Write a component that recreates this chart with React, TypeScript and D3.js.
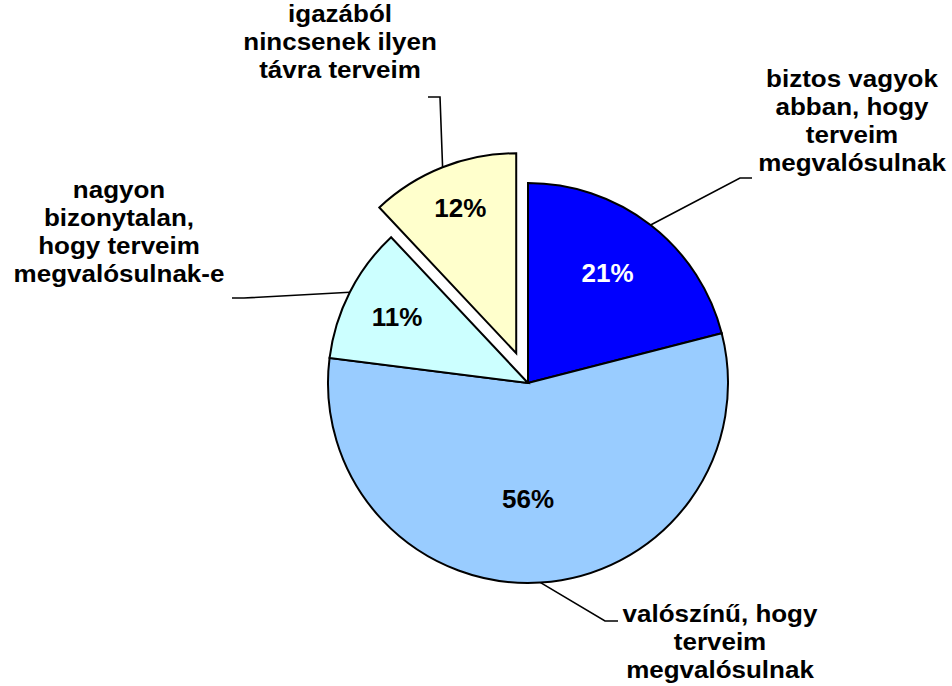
import React from "react";
import * as d3 from "d3";

// ---- data ----
const categories = [
  "biztos vagyok abban, hogy terveim megvalósulnak",
  "valószínű, hogy terveim megvalósulnak",
  "nagyon bizonytalan, hogy terveim megvalósulnak-e",
  "igazából nincsenek ilyen távra terveim",
];
const categoryLines = [
  ["biztos vagyok", "abban, hogy", "terveim", "megvalósulnak"],
  ["valószínű, hogy", "terveim", "megvalósulnak"],
  ["nagyon", "bizonytalan,", "hogy terveim", "megvalósulnak-e"],
  ["igazából", "nincsenek ilyen", "távra terveim"],
];
const values = [21, 56, 11, 12];
const colors = ["#0000FF", "#99CCFF", "#CCFFFF", "#FFFFCC"];
const pctColors = ["#FFFFFF", "#000000", "#000000", "#000000"];

// ---- layout ----
const W = 952;
const H = 686;
const CX = 528;
const CY = 383;
const R = 200;
const explode = [0, 0, 0, 32];
const pctRadius = [0.68, 0.58, 0.735, 0.78];
const pctShift = [-0.035, 0.063, 0, 0.01];
const labelLayout = [
  { cx: 852, y0: 87, elbow: [740, 178], end: [752, 178] },
  { cx: 720, y0: 622, elbow: [605, 621], end: [618, 621] },
  { cx: 119, y0: 198, elbow: [244, 298], end: [232, 298] },
  { cx: 340, y0: 22, elbow: [440, 97], end: [428, 97] },
];
const FONT = "'Liberation Sans', Arial, sans-serif";
const FS_PCT = 26;
const FS_CAT = 23;
const SX_CAT = 1.13;
const LH = 28;

export default function App() {
  const pie = d3
    .pie<number>()
    .sort(null)
    .value((d) => d)
    .startAngle(0)
    .endAngle(2 * Math.PI);
  const arcs = pie(values);
  const arcGen = d3.arc<d3.PieArcDatum<number>>().innerRadius(0).outerRadius(R);
  const line = d3.line();

  return (
    <svg
      width={W}
      height={H}
      style={{ position: "absolute", left: 0, top: 0, background: "#fff" }}
    >
      <rect x={0} y={0} width={W} height={H} fill="#fff" />
      {arcs.map((a, i) => {
        const mid = (a.startAngle + a.endAngle) / 2;
        const ox = Math.sin(mid) * explode[i];
        const oy = -Math.cos(mid) * explode[i];
        const lr = R * pctRadius[i];
        const la = mid + pctShift[i];
        const tx = CX + ox + Math.sin(la) * lr;
        const ty = CY + oy - Math.cos(la) * lr;
        return (
          <g key={categories[i]}>
            <path
              d={arcGen(a) || ""}
              transform={`translate(${CX + ox},${CY + oy})`}
              fill={colors[i]}
              stroke="#000"
              strokeWidth={2}
              strokeLinejoin="miter"
            />
            <text
              x={tx}
              y={ty}
              dy="0.36em"
              textAnchor="middle"
              fontFamily={FONT}
              fontWeight="bold"
              fontSize={FS_PCT}
              fill={pctColors[i]}
            >
              {values[i]}%
            </text>
          </g>
        );
      })}
      {arcs.map((a, i) => {
        const mid = (a.startAngle + a.endAngle) / 2;
        const ox = Math.sin(mid) * explode[i];
        const oy = -Math.cos(mid) * explode[i];
        const px = CX + ox + Math.sin(mid) * R;
        const py = CY + oy - Math.cos(mid) * R;
        const L = labelLayout[i];
        const pts: [number, number][] = [
          [px, py],
          [L.elbow[0], L.elbow[1]],
          [L.end[0], L.end[1]],
        ];
        return (
          <g key={"lbl" + i}>
            <path d={line(pts) || ""} fill="none" stroke="#000" strokeWidth={1.6} />
            <text
              transform={`translate(${L.cx},0) scale(${SX_CAT},1)`}
              textAnchor="middle"
              fontFamily={FONT}
              fontWeight="bold"
              fontSize={FS_CAT}
              fill="#000"
            >
              {categoryLines[i].map((t, k) => (
                <tspan key={k} x={0} y={L.y0 + k * LH}>
                  {t}
                </tspan>
              ))}
            </text>
          </g>
        );
      })}
    </svg>
  );
}
